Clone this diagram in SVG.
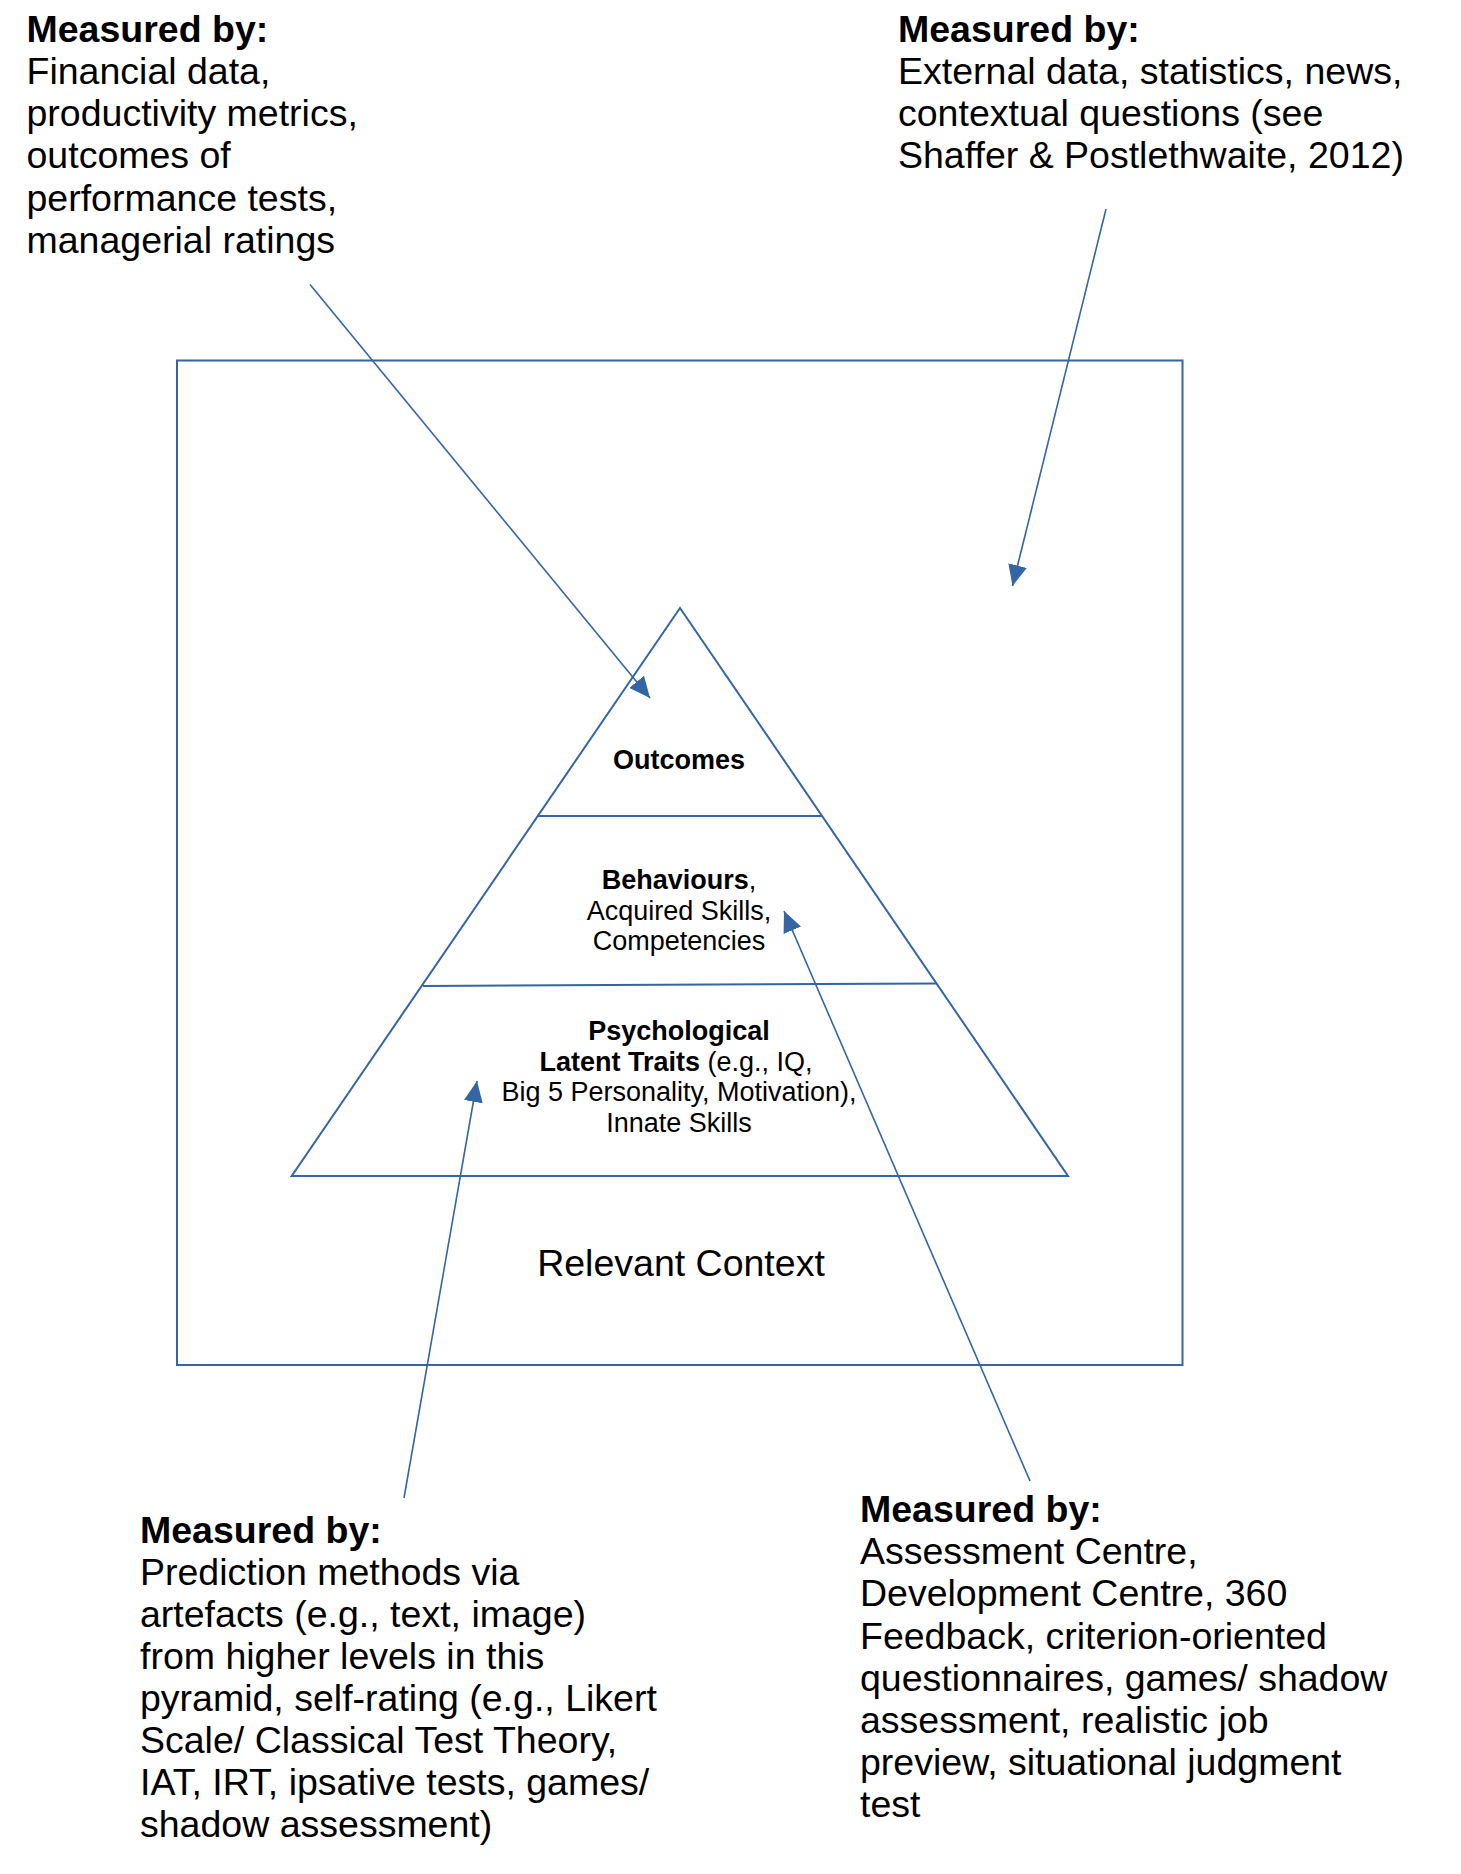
<svg xmlns="http://www.w3.org/2000/svg" width="1461" height="1874" viewBox="0 0 1461 1874">
<style>
.txt{font-family:"Liberation Sans",Arial,sans-serif;font-size:37.5px;fill:#000}
.b{font-weight:bold}
.pt{font-family:"Liberation Sans",Arial,sans-serif;font-size:27px;fill:#000;text-anchor:middle}
.shape{fill:none;stroke:#3465a4;stroke-width:2}
.conn{fill:none;stroke:#3465a4;stroke-width:1.6}
</style>
<defs>
<marker id="ah" viewBox="0 0 21 19" refX="21" refY="9.5" markerWidth="21" markerHeight="19" markerUnits="userSpaceOnUse" orient="auto">
<path d="M0,0 L21,9.5 L0,19 Z" fill="#3465a4"/>
</marker>
</defs>
<rect fill="#fff" width="1461" height="1874"/>
<g id="context">
<rect class="shape" x="177" y="360.5" width="1005.5" height="1004.5"/>
<text class="txt" x="681" y="1276" text-anchor="middle">Relevant Context</text>
</g>
<g id="pyramid">
<path class="shape" d="M680,608 L291.7,1176 L1068,1176 Z"/>
<line class="shape" x1="537.8" y1="816" x2="822.3" y2="816"/>
<line class="shape" x1="423" y1="986" x2="937" y2="983.5"/>
</g>
<g id="outcomes">
<text class="pt b" x="679" y="769">Outcomes</text>
</g>
<g id="behaviours">
<text class="pt" x="679" y="889"><tspan font-weight="bold">Behaviours</tspan>,</text>
<text class="pt" x="679" y="919.5">Acquired Skills,</text>
<text class="pt" x="679" y="950">Competencies</text>
</g>
<g id="traits">
<text class="pt b" x="679" y="1040">Psychological</text>
<text class="pt" x="676" y="1070.5"><tspan font-weight="bold">Latent Traits</tspan> (e.g., IQ,</text>
<text class="pt" x="679" y="1101">Big 5 Personality, Motivation),</text>
<text class="pt" x="679" y="1131.5">Innate Skills</text>
</g>
<g id="label-outcomes">
<text class="txt" x="26.5"><tspan class="b" x="26.5" y="41.7">Measured by:</tspan><tspan x="26.5" y="84">Financial data,</tspan><tspan x="26.5" y="126.2">productivity metrics,</tspan><tspan x="26.5" y="168.4">outcomes of</tspan><tspan x="26.5" y="210.6">performance tests,</tspan><tspan x="26.5" y="252.8">managerial ratings</tspan></text>
</g>
<g id="label-context">
<text class="txt" x="898"><tspan class="b" x="898" y="41.7">Measured by:</tspan><tspan x="898" y="84">External data, statistics, news,</tspan><tspan x="898" y="126.2">contextual questions (see</tspan><tspan x="898" y="168.4">Shaffer &amp; Postlethwaite, 2012)</tspan></text>
</g>
<g id="label-traits">
<text class="txt" x="140"><tspan class="b" x="140" y="1543">Measured by:</tspan><tspan x="140" y="1585">Prediction methods via</tspan><tspan x="140" y="1627">artefacts (e.g., text, image)</tspan><tspan x="140" y="1669">from higher levels in this</tspan><tspan x="140" y="1711">pyramid, self-rating (e.g., Likert</tspan><tspan x="140" y="1753">Scale/ Classical Test Theory,</tspan><tspan x="140" y="1795">IAT, IRT, ipsative tests, games/</tspan><tspan x="140" y="1837">shadow assessment)</tspan></text>
</g>
<g id="label-behaviours">
<text class="txt" x="860"><tspan class="b" x="860" y="1522">Measured by:</tspan><tspan x="860" y="1564.2">Assessment Centre,</tspan><tspan x="860" y="1606.4">Development Centre, 360</tspan><tspan x="860" y="1648.6">Feedback, criterion-oriented</tspan><tspan x="860" y="1690.8">questionnaires, games/ shadow</tspan><tspan x="860" y="1733">assessment, realistic job</tspan><tspan x="860" y="1775.2">preview, situational judgment</tspan><tspan x="860" y="1817.4">test</tspan></text>
</g>
<g id="connectors">
<line class="conn" x1="310" y1="284.5" x2="650" y2="698" marker-end="url(#ah)"/>
<line class="conn" x1="1106" y1="209" x2="1012.5" y2="586" marker-end="url(#ah)"/>
<line class="conn" x1="404" y1="1498" x2="477" y2="1081" marker-end="url(#ah)"/>
<line class="conn" x1="1030" y1="1481" x2="784" y2="911" marker-end="url(#ah)"/>
</g>
</svg>
